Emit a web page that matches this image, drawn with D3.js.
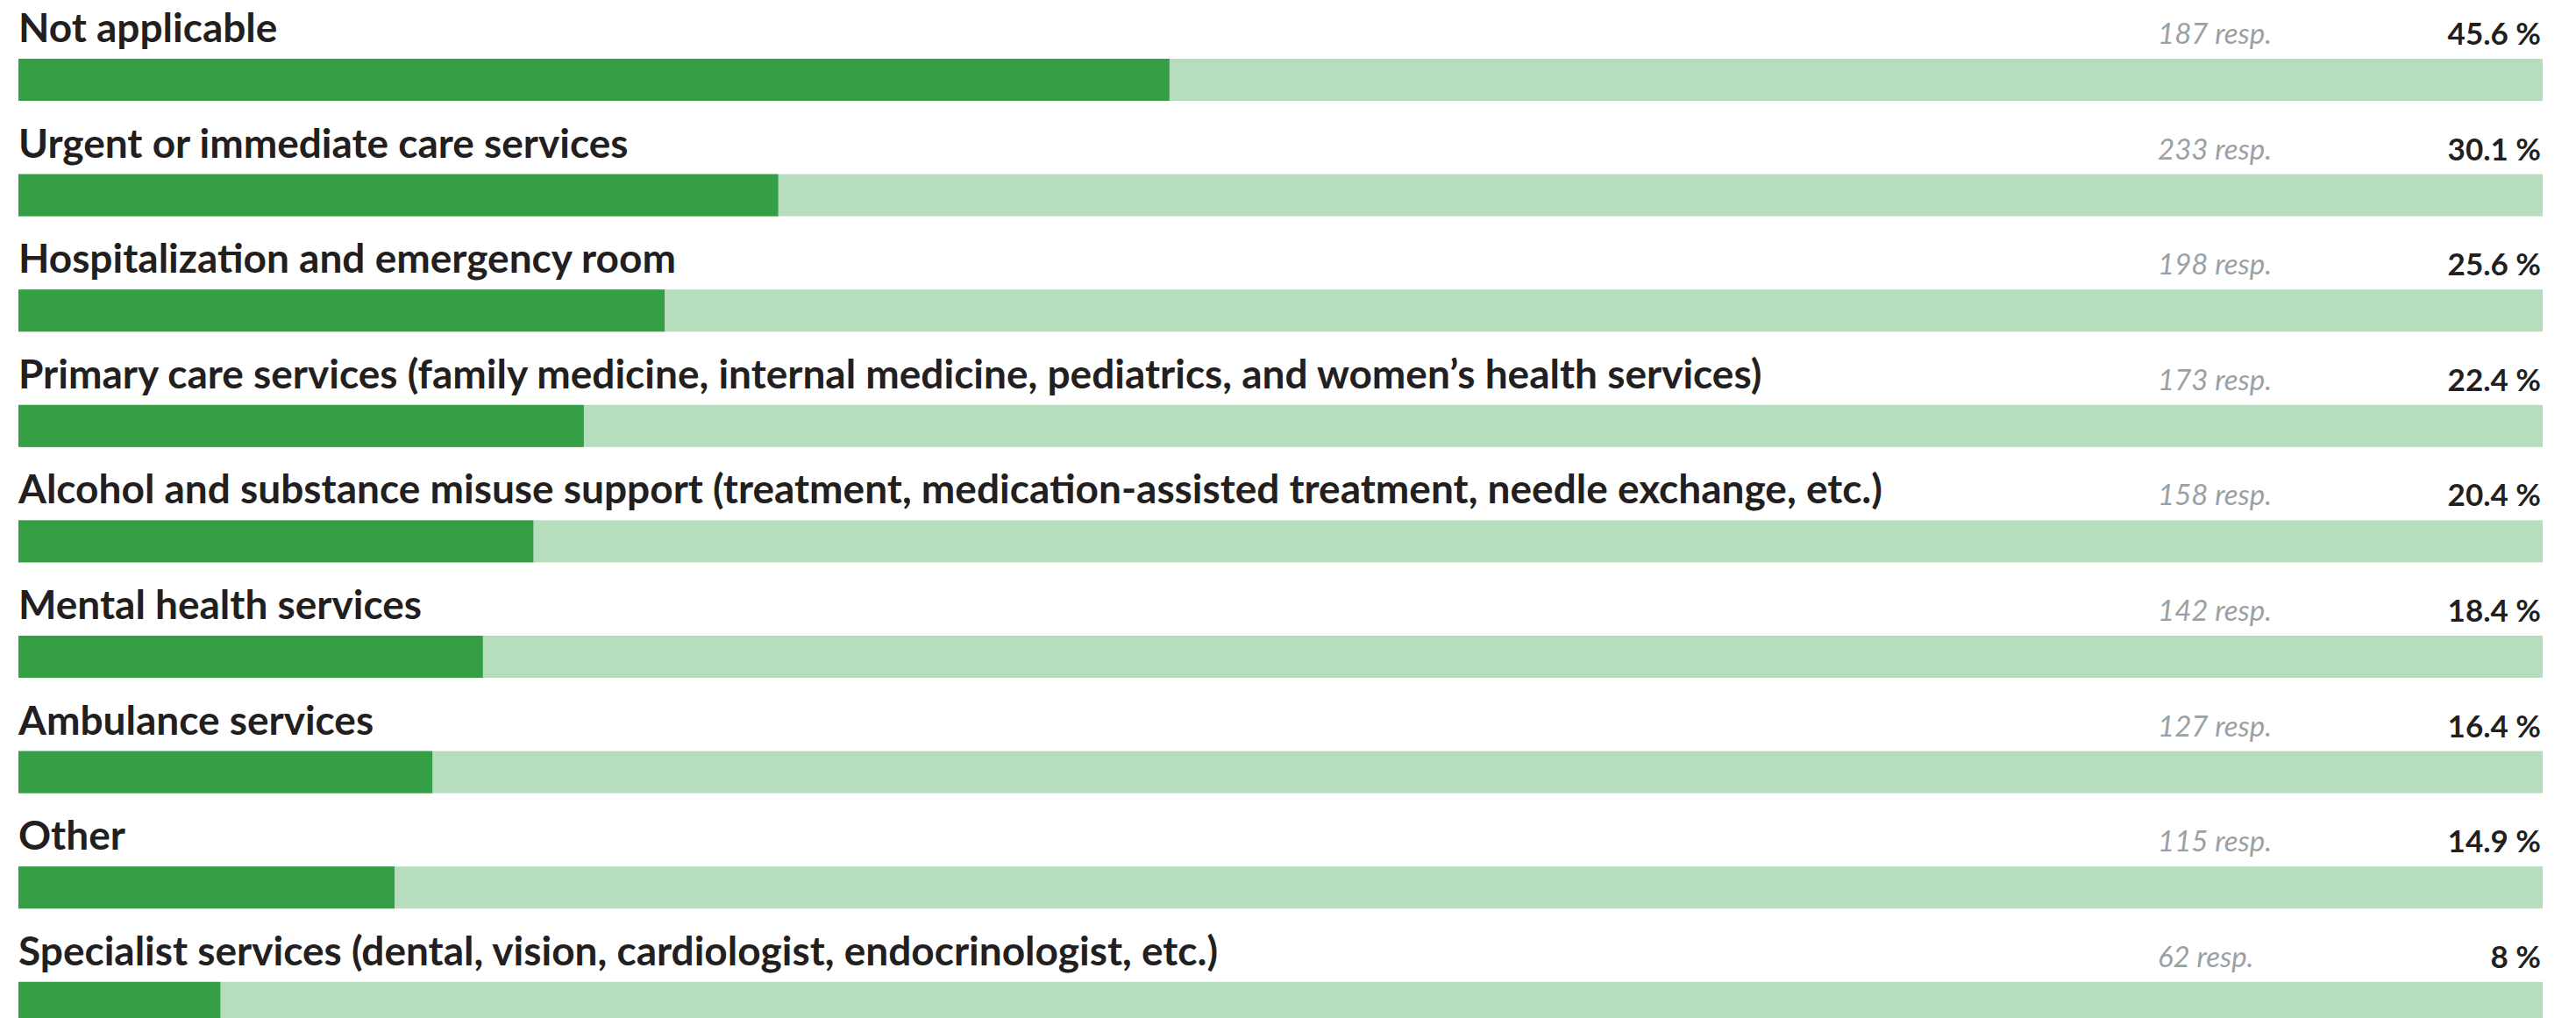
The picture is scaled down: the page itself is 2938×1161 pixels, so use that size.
<!DOCTYPE html>
<html>
<head>
<meta charset="utf-8">
<script src="https://cdn.jsdelivr.net/npm/d3@7"></script>
<style>
  html, body { margin: 0; padding: 0; background: #fff; }
  svg { display: block; }
  .label { font-family: Lato, "Open Sans", sans-serif; font-weight: 700; fill: #231f20; }
  .resp { font-family: Lato, "Open Sans", sans-serif; font-style: italic; fill: #9aa1a5; }
  .pct { font-family: Lato, "Open Sans", sans-serif; font-weight: 700; fill: #231f20; }
</style>
</head>
<body>
<svg id="chart"></svg>
<script>
const width = 2938, height = 1161;

const categories = [
  "Not applicable",
  "Urgent or immediate care services",
  "Hospitalization and emergency room",
  "Primary care services (family medicine, internal medicine, pediatrics, and women\u2019s health services)",
  "Alcohol and substance misuse support (treatment, medication-assisted treatment, needle exchange, etc.)",
  "Mental health services",
  "Ambulance services",
  "Other",
  "Specialist services (dental, vision, cardiologist, endocrinologist, etc.)"
];
const responses = [187, 233, 198, 173, 158, 142, 127, 115, 62];
const percents = [45.6, 30.1, 25.6, 22.4, 20.4, 18.4, 16.4, 14.9, 8];

const rows = categories.map((c, i) => ({ cat: c, resp: responses[i], pct: percents[i] }));

const svg = d3.select("#chart").attr("width", width).attr("height", height);

const x = d3.scaleLinear().domain([0, 100]).range([21, 2900]);
const y = d3.scaleBand().domain(categories).range([-2, -2 + 131.6 * categories.length]);

const barTop = 69, barH = 48;

const row = svg.selectAll("g.row")
  .data(rows)
  .join("g")
  .attr("class", "row")
  .attr("transform", d => `translate(0,${y(d.cat)})`);

// background track
row.append("rect")
  .attr("x", x(0))
  .attr("y", barTop)
  .attr("width", x(100) - x(0))
  .attr("height", barH)
  .attr("fill", "#b7ddbf");

// value bar
row.append("rect")
  .attr("x", x(0))
  .attr("y", barTop)
  .attr("width", d => x(d.pct) - x(0))
  .attr("height", barH)
  .attr("fill", "#359f45");

row.append("text")
  .attr("class", "label")
  .attr("x", 21)
  .attr("y", barTop - 19)
  .attr("font-size", 46)
  .text(d => d.cat);

row.append("text")
  .attr("class", "resp")
  .attr("x", 2461)
  .attr("y", barTop - 17)
  .attr("font-size", 33)
  .text(d => `${d.resp} resp.`);

row.append("text")
  .attr("class", "pct")
  .attr("x", 2898)
  .attr("y", barTop - 16)
  .attr("text-anchor", "end")
  .attr("font-size", 35)
  .text(d => `${d.pct} %`);
</script>
</body>
</html>
